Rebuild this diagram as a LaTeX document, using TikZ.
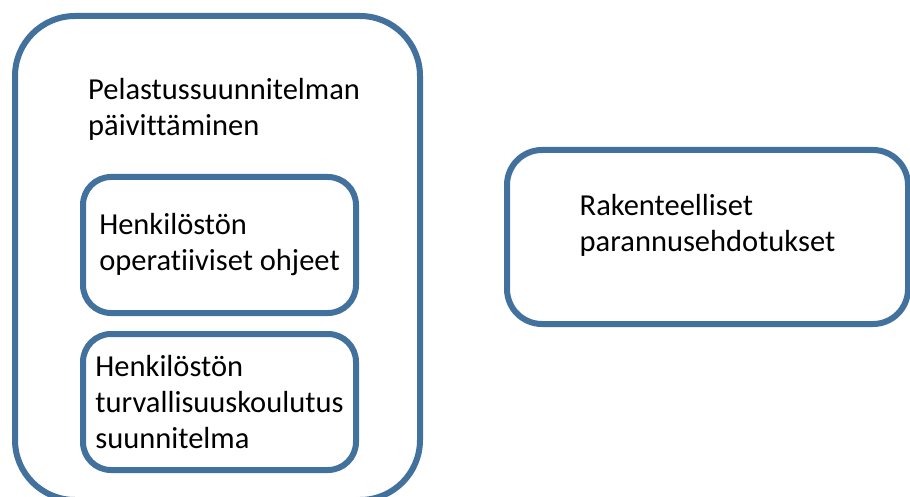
\documentclass[tikz,border=0pt]{standalone}
\usepackage{fontspec}
\setmainfont{Carlito}[Ligatures=NoCommon]
\usetikzlibrary{positioning}
\definecolor{boxblue}{RGB}{65,113,156}
\begin{document}
\begin{tikzpicture}[
            x=1pt, y=-1pt,
            txt/.style={font=\fontsize{30.5}{36}\selectfont, align=left, inner sep=0pt},
            box/.style={txt, draw=boxblue, line width=6pt, rectangle},
            inbox/.style={box, minimum width=273pt, minimum height=136pt, rounded corners=28pt}
        ]

        \tikzset{
            node distance=15pt,
        }

        \useasboundingbox (0,0) rectangle (910,497);
        \clip (0,0) rectangle (910,497);

        \node[box, minimum width=405pt, minimum height=484pt, rounded corners=60pt] (plan) at (217.5,258) {};
        \node[txt, anchor=north west] (title) at (88,78.5) {Pelastussuunnitelman\\päivittäminen};
        \node[inbox] (ops) at (219.5,245) {Henkilöstön\\operatiiviset ohjeet};
        \node[inbox, below=of ops] (train) {Henkilöstön\\turvallisuuskoulutus\\suunnitelma};
        \node[box, minimum width=401pt, minimum height=174pt, rounded corners=35pt] (struct) at (707.5,237) {};
        \node[txt, yshift=12pt] (structlbl) at (struct.center) {Rakenteelliset\\parannusehdotukset};

\end{tikzpicture}
\end{document}
